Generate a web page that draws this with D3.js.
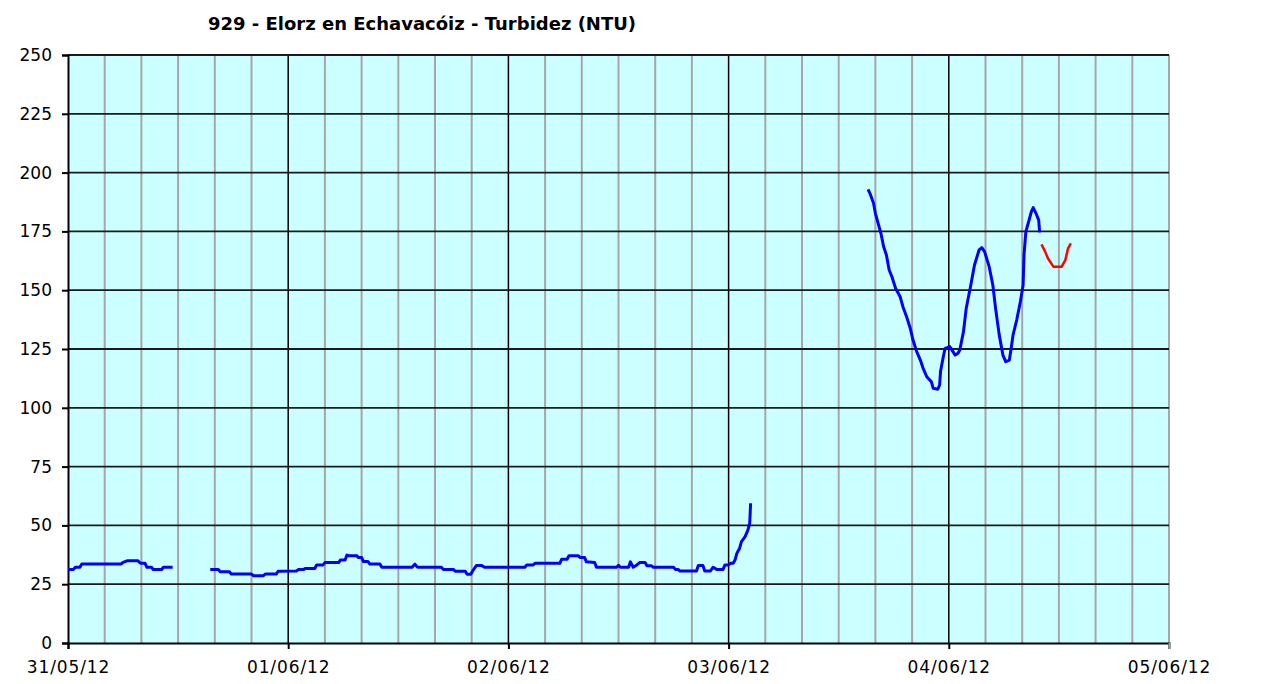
<!DOCTYPE html>
<html>
<head>
<meta charset="utf-8">
<script src="https://cdn.jsdelivr.net/npm/d3@7"></script>
<style>
html, body { margin: 0; padding: 0; background: #ffffff; }
svg { display: block; }
text { font-family: "DejaVu Sans", Verdana, sans-serif; fill: #000; }
</style>
</head>
<body>
<svg id="chart" width="1265" height="684"></svg>
<script>
// ---- data ----
const titleText = "929 - Elorz en Echavacóiz - Turbidez (NTU)";
const startDate = new Date(2012, 4, 31, 0, 0);
const dayTickLabels = ["31/05/12", "01/06/12", "02/06/12", "03/06/12", "04/06/12", "05/06/12"];
const yTickValues = [0, 25, 50, 75, 100, 125, 150, 175, 200, 225, 250];

// hours since 31/05/12 00:00 ; null value = gap in record
const blueHours = [
  0.0, 0.6, 0.8, 1.3, 1.5, 5.8, 6.0, 6.5, 7.6, 7.9, 8.4, 8.6, 9.1, 9.3, 10.2, 10.4, 11.4,
  13.5,
  15.5, 16.4, 16.6, 17.6, 17.8, 20.0, 20.2, 21.3, 21.5, 22.7, 22.9, 24.9, 25.1, 25.65, 25.85, 26.9,
  27.1, 27.8, 28.0, 29.5, 29.7, 30.2, 30.4, 30.6, 31.5, 31.6, 32.0, 32.2, 32.7, 32.9, 34.0, 34.2,
  37.5, 37.8, 38.1, 40.7, 40.9, 42.0, 42.2, 43.3, 43.5, 43.9, 44.1, 44.5, 45.1, 45.4, 49.8, 50.0,
  50.7, 50.9, 53.6, 53.8, 54.4, 54.6, 55.6, 55.8, 56.3, 56.5, 57.4, 57.6, 59.8, 60.0, 60.2, 61.1,
  61.3, 61.6, 62.0, 62.3, 62.9, 63.1, 63.6, 63.8, 66.0, 66.2, 66.5, 66.7, 68.5, 68.7, 69.2, 69.4,
  70.0, 70.3, 70.7, 71.4, 71.6, 72.0, 72.2, 72.5, 72.7, 72.9, 73.2, 73.4, 73.8, 74.1, 74.3, 74.4,
  80.0,
  87.2, 87.4, 87.8, 88.0, 88.3, 88.6, 88.9, 89.2, 89.5, 89.8, 90.2, 90.7, 91.0, 91.4, 91.8, 92.1,
  92.5, 92.9, 93.2, 93.6, 94.1, 94.3, 94.8, 95.0, 95.1, 95.4, 95.6, 96.1, 96.7, 97.0, 97.2, 97.6,
  97.9, 98.4, 98.8, 99.3, 99.6, 99.9, 100.4, 100.8, 101.1, 101.5, 101.9, 102.2, 102.6, 102.8, 103.0, 103.4,
  103.8, 104.1, 104.2, 104.4, 104.7, 105.0, 105.2, 105.5, 105.8, 105.9
];
const blueValues = [
  31.3, 31.3, 32.2, 32.2, 33.6, 33.6, 34.3, 35.0, 35.0, 33.9, 33.9, 32.2, 32.2, 31.2, 31.2, 32.2, 32.2,
  null,
  31.2, 31.2, 30.3, 30.3, 29.3, 29.3, 28.6, 28.6, 29.3, 29.3, 30.5, 30.6, 31.2, 31.2, 31.7, 31.7,
  33.2, 33.2, 34.2, 34.2, 35.3, 35.3, 37.4, 37.1, 37.1, 36.4, 36.4, 34.6, 34.6, 33.6, 33.6, 32.2,
  32.2, 33.5, 32.2, 32.2, 31.3, 31.3, 30.5, 30.5, 29.2, 29.2, 30.6, 32.9, 32.9, 32.2, 32.2, 33.2,
  33.2, 33.9, 33.9, 35.6, 35.6, 37.1, 37.1, 36.4, 36.4, 34.5, 34.2, 32.2, 32.2, 33.0, 32.2, 32.2,
  34.5, 32.2, 33.2, 34.2, 34.2, 32.8, 32.8, 32.2, 32.2, 31.3, 31.3, 30.6, 30.6, 33.0, 33.0, 30.6,
  30.6, 32.2, 31.3, 31.3, 33.2, 33.2, 33.9, 33.9, 35.3, 38.1, 40.3, 43.1, 45.2, 48.0, 50.9, 59.4,
  null,
  192.9, 191.2, 187.0, 182.7, 178.4, 174.2, 168.5, 165.0, 158.6, 155.7, 150.8, 147.2, 143.0, 138.7, 133.8, 128.8,
  123.9, 120.3, 116.8, 113.2, 111.1, 108.3, 107.9, 109.7, 115.5, 121.7, 125.3, 126.0, 122.4, 123.2, 124.6, 132.4,
  142.3, 152.2, 160.7, 167.1, 168.1, 166.4, 160.0, 152.2, 142.3, 130.9, 122.4, 119.6, 120.3, 125.3, 130.9, 137.3,
  145.1, 152.2, 165.0, 174.9, 179.1, 183.4, 185.1, 182.7, 179.8, 174.6
];

const redHours  = [106.1, 106.5, 106.8, 107.4, 108.3, 108.7, 109.0, 109.3];
const redValues = [169.5, 166.4, 163.6, 160.0, 160.0, 162.8, 167.8, 169.9];

// ---- layout ----
const svg = d3.select("#chart");
const plotL = 68, plotR = 1169, plotT = 55, plotB = 643;

const toDate = h => new Date(startDate.getTime() + h * 3600 * 1000);
const x = d3.scaleTime()
  .domain([startDate, toDate(120)])
  .range([plotL, plotR]);
const y = d3.scaleLinear().domain([0, 250]).range([plotB, plotT]);

// background
svg.append("rect")
  .attr("x", plotL).attr("y", plotT)
  .attr("width", plotR - plotL).attr("height", plotB - plotT)
  .attr("fill", "#ccffff");

// minor vertical grid (every 4 hours)
const minorTicks = d3.range(4, 120, 4).filter(h => h % 24 !== 0).map(toDate);
svg.append("g").selectAll("line").data(minorTicks).join("line")
  .attr("x1", d => x(d)).attr("x2", d => x(d))
  .attr("y1", plotT).attr("y2", plotB)
  .attr("stroke", "#a6a6a6").attr("stroke-width", 2);

// right edge (grey)
svg.append("line")
  .attr("x1", plotR).attr("x2", plotR).attr("y1", plotT).attr("y2", plotB + 6)
  .attr("stroke", "#a6a6a6").attr("stroke-width", 2);

// major vertical grid (days)
const dayTicks = d3.range(0, 5).map(i => toDate(i * 24));
svg.append("g").selectAll("line").data(dayTicks.slice(1)).join("line")
  .attr("x1", d => x(d)).attr("x2", d => x(d))
  .attr("y1", plotT).attr("y2", plotB)
  .attr("stroke", "#000").attr("stroke-width", 1.5);

// horizontal grid
svg.append("g").selectAll("line").data(yTickValues.filter(v => v > 0)).join("line")
  .attr("x1", plotL).attr("x2", plotR)
  .attr("y1", d => y(d)).attr("y2", d => y(d))
  .attr("stroke", "#1a1a1a").attr("stroke-width", 1.8);

// y axis
const yAxis = d3.axisLeft(y).tickValues(yTickValues).tickSize(6).tickPadding(10);
const gy = svg.append("g").attr("transform", `translate(${plotL},0)`).call(yAxis);
gy.select(".domain").attr("stroke", "#000").attr("stroke-width", 2);
gy.selectAll(".tick line").attr("stroke", "#000").attr("stroke-width", 2);
gy.selectAll(".tick text").attr("font-size", 17).attr("font-family", "DejaVu Sans").attr("fill", "#000");

// x axis
const xAxis = d3.axisBottom(x)
  .tickValues(d3.range(0, 6).map(i => toDate(i * 24)))
  .tickFormat((d, i) => dayTickLabels[i])
  .tickSize(6).tickPadding(12);
const gx = svg.append("g").attr("transform", `translate(0,${plotB})`).call(xAxis);
gx.select(".domain").attr("stroke", "#000").attr("stroke-width", 2);
gx.selectAll(".tick line").attr("stroke", (d, i) => i === 5 ? "#a6a6a6" : "#000").attr("stroke-width", 2);
gx.selectAll(".tick text").attr("font-size", 17).attr("font-family", "DejaVu Sans")
  .attr("fill", "#000").attr("letter-spacing", 0.9);

// series
const line = d3.line()
  .defined(d => d[1] !== null)
  .x(d => x(toDate(d[0])))
  .y(d => y(d[1]));

const blueData = blueHours.map((h, i) => [h, blueValues[i]]);
const redData = redHours.map((h, i) => [h, redValues[i]]);

svg.append("path").datum(blueData)
  .attr("d", line)
  .attr("fill", "none").attr("stroke", "#0000ff").attr("stroke-width", 3)
  .attr("stroke-linejoin", "round");

svg.append("path").datum(redData)
  .attr("d", line)
  .attr("fill", "none").attr("stroke", "#ff0000").attr("stroke-width", 2.5)
  .attr("stroke-linejoin", "round");

// title
svg.append("text")
  .attr("x", 422).attr("y", 30)
  .attr("text-anchor", "middle")
  .attr("font-size", 18).attr("font-weight", "bold")
  .text(titleText);
</script>
</body>
</html>
